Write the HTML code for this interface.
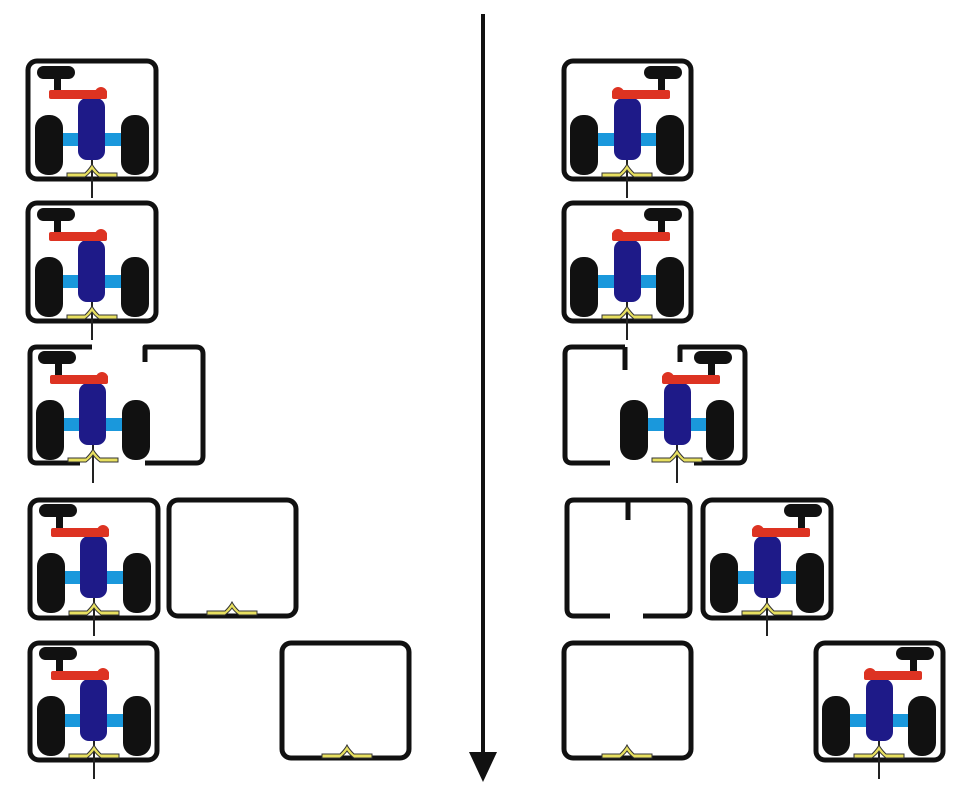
<!DOCTYPE html>
<html><head><meta charset="utf-8"><style>html,body{margin:0;padding:0;background:#fff}svg{display:block}</style></head>
<body>
<svg width="964" height="801" viewBox="0 0 964 801" xmlns="http://www.w3.org/2000/svg">
<defs>
<g id="rob">
  <line x1="65" y1="98" x2="65" y2="138" stroke="#222" stroke-width="2"/>
  <path d="M40,113 L58,113 Q63,108 65,104 Q67,108 72,113 L90,113 L90,117 L72,117 Q67,113 65,110 Q63,113 58,117 L40,117Z" fill="#e8e060" stroke="#333" stroke-width="1"/>
  <rect x="8" y="73" width="113" height="13" fill="#1a98dc"/>
  <rect x="8" y="55" width="28" height="60" rx="13" fill="#111"/>
  <rect x="94" y="55" width="28" height="60" rx="13" fill="#111"/>
  <rect x="51" y="38" width="27" height="62" rx="9" fill="#1e1a88"/>
  <rect x="27" y="12" width="7" height="22" fill="#111"/>
  <rect x="10" y="6" width="38" height="13" rx="6.5" fill="#111"/>
  <rect x="22" y="30" width="58" height="9" rx="2" fill="#dd3322"/>
  <circle cx="74" cy="33" r="6" fill="#dd3322"/>
</g>
<g id="robm"><use href="#rob" transform="translate(130,0) scale(-1,1)"/></g>
<g id="feet">
  <path d="M40,113 L58,113 Q63,108 65,104 Q67,108 72,113 L90,113 L90,117 L72,117 Q67,113 65,110 Q63,113 58,117 L40,117Z" fill="#e8e060" stroke="#333" stroke-width="1"/>
</g>
</defs>
<g fill="none" stroke="#111" stroke-width="5" stroke-linejoin="round">
  <rect x="28" y="61" width="128" height="118" rx="9"/>
  <rect x="28" y="203" width="128" height="118" rx="9"/>
  <path d="M92,347 L37,347 Q30,347 30,354 L30,456 Q30,463 37,463 L80,463"/>
  <path d="M145,362 L145,347 L196,347 Q203,347 203,354 L203,456 Q203,463 196,463 L145,463"/>
  <rect x="30" y="500" width="128" height="118" rx="9"/>
  <rect x="169" y="500" width="127" height="116" rx="9"/>
  <rect x="30" y="643" width="127" height="117" rx="9"/>
  <rect x="282" y="643" width="127" height="115" rx="9"/>
  <rect x="564" y="61" width="127" height="118" rx="9"/>
  <rect x="564" y="203" width="127" height="118" rx="9"/>
  <path d="M625,347 L625,370 M625,347 L572,347 Q565,347 565,354 L565,456 Q565,463 572,463 L610,463"/>
  <path d="M680,362 L680,347 L738,347 Q745,347 745,354 L745,456 Q745,463 738,463 L694,463"/>
  <path d="M628,500 L628,520 M628,500 L574,500 Q567,500 567,507 L567,609 Q567,616 574,616 L610,616 M643,616 L683,616 Q690,616 690,609 L690,507 Q690,500 683,500 L628,500"/>
  <rect x="703" y="500" width="128" height="118" rx="9"/>
  <rect x="564" y="643" width="127" height="115" rx="9"/>
  <rect x="816" y="643" width="127" height="117" rx="9"/>
</g>
<use href="#rob" transform="translate(27,60)"/>
<use href="#rob" transform="translate(27,202)"/>
<use href="#rob" transform="translate(28,345)"/>
<use href="#rob" transform="translate(29,498)"/>
<use href="#rob" transform="translate(29,641)"/>
<use href="#feet" transform="translate(167,498)"/>
<use href="#feet" transform="translate(282,641)"/>
<use href="#robm" transform="translate(562,60)"/>
<use href="#robm" transform="translate(562,202)"/>
<use href="#robm" transform="translate(612,345)"/>
<use href="#robm" transform="translate(702,498)"/>
<use href="#robm" transform="translate(814,641)"/>
<use href="#feet" transform="translate(562,641)"/>
<line x1="483" y1="14" x2="483" y2="760" stroke="#111" stroke-width="4"/>
<polygon points="469,752 497,752 483,782" fill="#111"/>
</svg>
</body></html>
